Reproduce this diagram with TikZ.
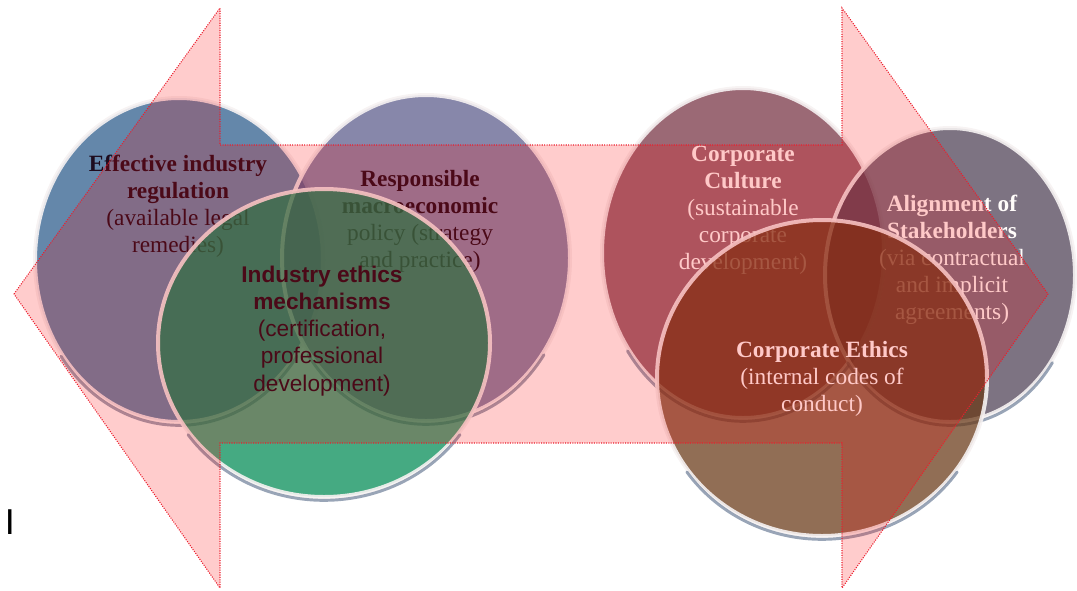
\documentclass[tikz,border=0pt]{standalone}
\usepackage{fontspec}
\setmainfont{Liberation Serif}
\setsansfont{Liberation Sans}
\usetikzlibrary{shapes.geometric}
\definecolor{regblue}{RGB}{42,90,138}
\definecolor{macropurple}{RGB}{90,90,138}
\definecolor{mechgreen}{RGB}{0,138,84}
\definecolor{culturerose}{RGB}{118,49,66}
\definecolor{stakegray}{RGB}{77,63,84}
\definecolor{ethicsbrown}{RGB}{104,56,22}
\definecolor{ringwhite}{RGB}{246,242,242}
\definecolor{shadowblue}{RGB}{85,105,135}
\definecolor{arrowred}{RGB}{255,0,0}
\definecolor{arrowline}{RGB}{235,30,45}
\definecolor{textdark}{RGB}{30,12,30}
\definecolor{textlight}{RGB}{255,252,250}
\tikzstyle{venn} = [ellipse, fill opacity=0.73, draw=ringwhite, draw opacity=0.9, line width=3pt, outer sep=0pt, inner sep=0pt]
\tikzstyle{shadowline} = [draw=shadowblue, draw opacity=0.6, line width=2.2pt, line cap=round]
\tikzstyle{darktext} = [align=center, text=textdark, font=\fontsize{17.5}{20.3}\selectfont]
\tikzstyle{lighttext} = [align=center, text=textlight, font=\fontsize{17.5}{20.3}\selectfont]
\tikzstyle{sanstext} = [align=center, text=textdark, font=\sffamily\fontsize{17}{20.3}\selectfont]
\tikzstyle{bigarrow} = [fill=arrowred, fill opacity=0.2, draw=arrowline, densely dotted, line width=0.8pt]

\begin{document}
\begin{tikzpicture}[x=0.75pt, y=-0.75pt]
		\useasboundingbox (0,0) rectangle (1077,590);

		% left group
		\node [venn, fill=regblue, minimum width=216pt, minimum height=243pt] (regulation) at (179,260) {};
		\draw [shadowline] ([yshift=-2.5pt]regulation.center) ++(-35:108pt and 121.5pt) arc[start angle=-35, end angle=-145, x radius=108pt, y radius=121.5pt];
		\node [darktext] (regulationtext) at (178,206) {\textbf{Effective industry}\\\textbf{regulation}\\(available legal\\remedies)};

		\node [venn, fill=macropurple, minimum width=216pt, minimum height=244.5pt] (macro) at (426,258) {};
		\draw [shadowline] ([yshift=-2.5pt]macro.center) ++(-35:108pt and 122.25pt) arc[start angle=-35, end angle=-145, x radius=108pt, y radius=122.25pt];
		\node [darktext] (macrotext) at (420,221) {\textbf{Responsible}\\\textbf{macroeconomic}\\policy (strategy\\and practice)};

		\node [venn, fill=mechgreen, minimum width=249pt, minimum height=231pt] (mechanisms) at (324,343) {};
		\draw [shadowline] ([yshift=-2.5pt]mechanisms.center) ++(-35:124.5pt and 115.5pt) arc[start angle=-35, end angle=-145, x radius=124.5pt, y radius=115.5pt];
		\node [sanstext] (mechanismstext) at (322,331) {\textbf{Industry ethics}\\\textbf{mechanisms}\\(certification,\\professional\\development)};

		% right group
		\node [venn, fill=culturerose, minimum width=211.5pt, minimum height=247.5pt] (culture) at (743,253) {};
		\draw [shadowline] ([yshift=-2.5pt]culture.center) ++(-35:105.75pt and 123.75pt) arc[start angle=-35, end angle=-145, x radius=105.75pt, y radius=123.75pt];
		\node [lighttext] (culturetext) at (743,210) {\textbf{Corporate}\\\textbf{Culture}\\(sustainable\\corporate\\development)};

		\node [venn, fill=stakegray, minimum width=187.5pt, minimum height=220.5pt] (alignment) at (950,275) {};
		\draw [shadowline] ([yshift=-2.5pt]alignment.center) ++(-35:93.75pt and 110.25pt) arc[start angle=-35, end angle=-145, x radius=93.75pt, y radius=110.25pt];
		\node [lighttext] (alignmenttext) at (952,260) {\textbf{Alignment of}\\\textbf{Stakeholders}\\(via contractual\\and implicit\\agreements)};

		\node [venn, fill=ethicsbrown, minimum width=247.5pt, minimum height=237pt] (ethics) at (822,378) {};
		\draw [shadowline] ([yshift=-2.5pt]ethics.center) ++(-35:123.75pt and 118.5pt) arc[start angle=-35, end angle=-145, x radius=123.75pt, y radius=118.5pt];
		\node [lighttext] (ethicstext) at (822,379) {\textbf{Corporate Ethics}\\(internal codes of\\conduct)};

		% double arrow laid over everything
		\draw [bigarrow] (14,294) -- (220,8) -- (220,145) -- (842,145) -- (842,8) -- (1048,294) -- (842,588) -- (842,443) -- (220,443) -- (220,588) -- cycle;

		\node [font=\sffamily\fontsize{27}{30}\selectfont] (bar) at (10,522) {I};
	\end{tikzpicture}
\end{document}
